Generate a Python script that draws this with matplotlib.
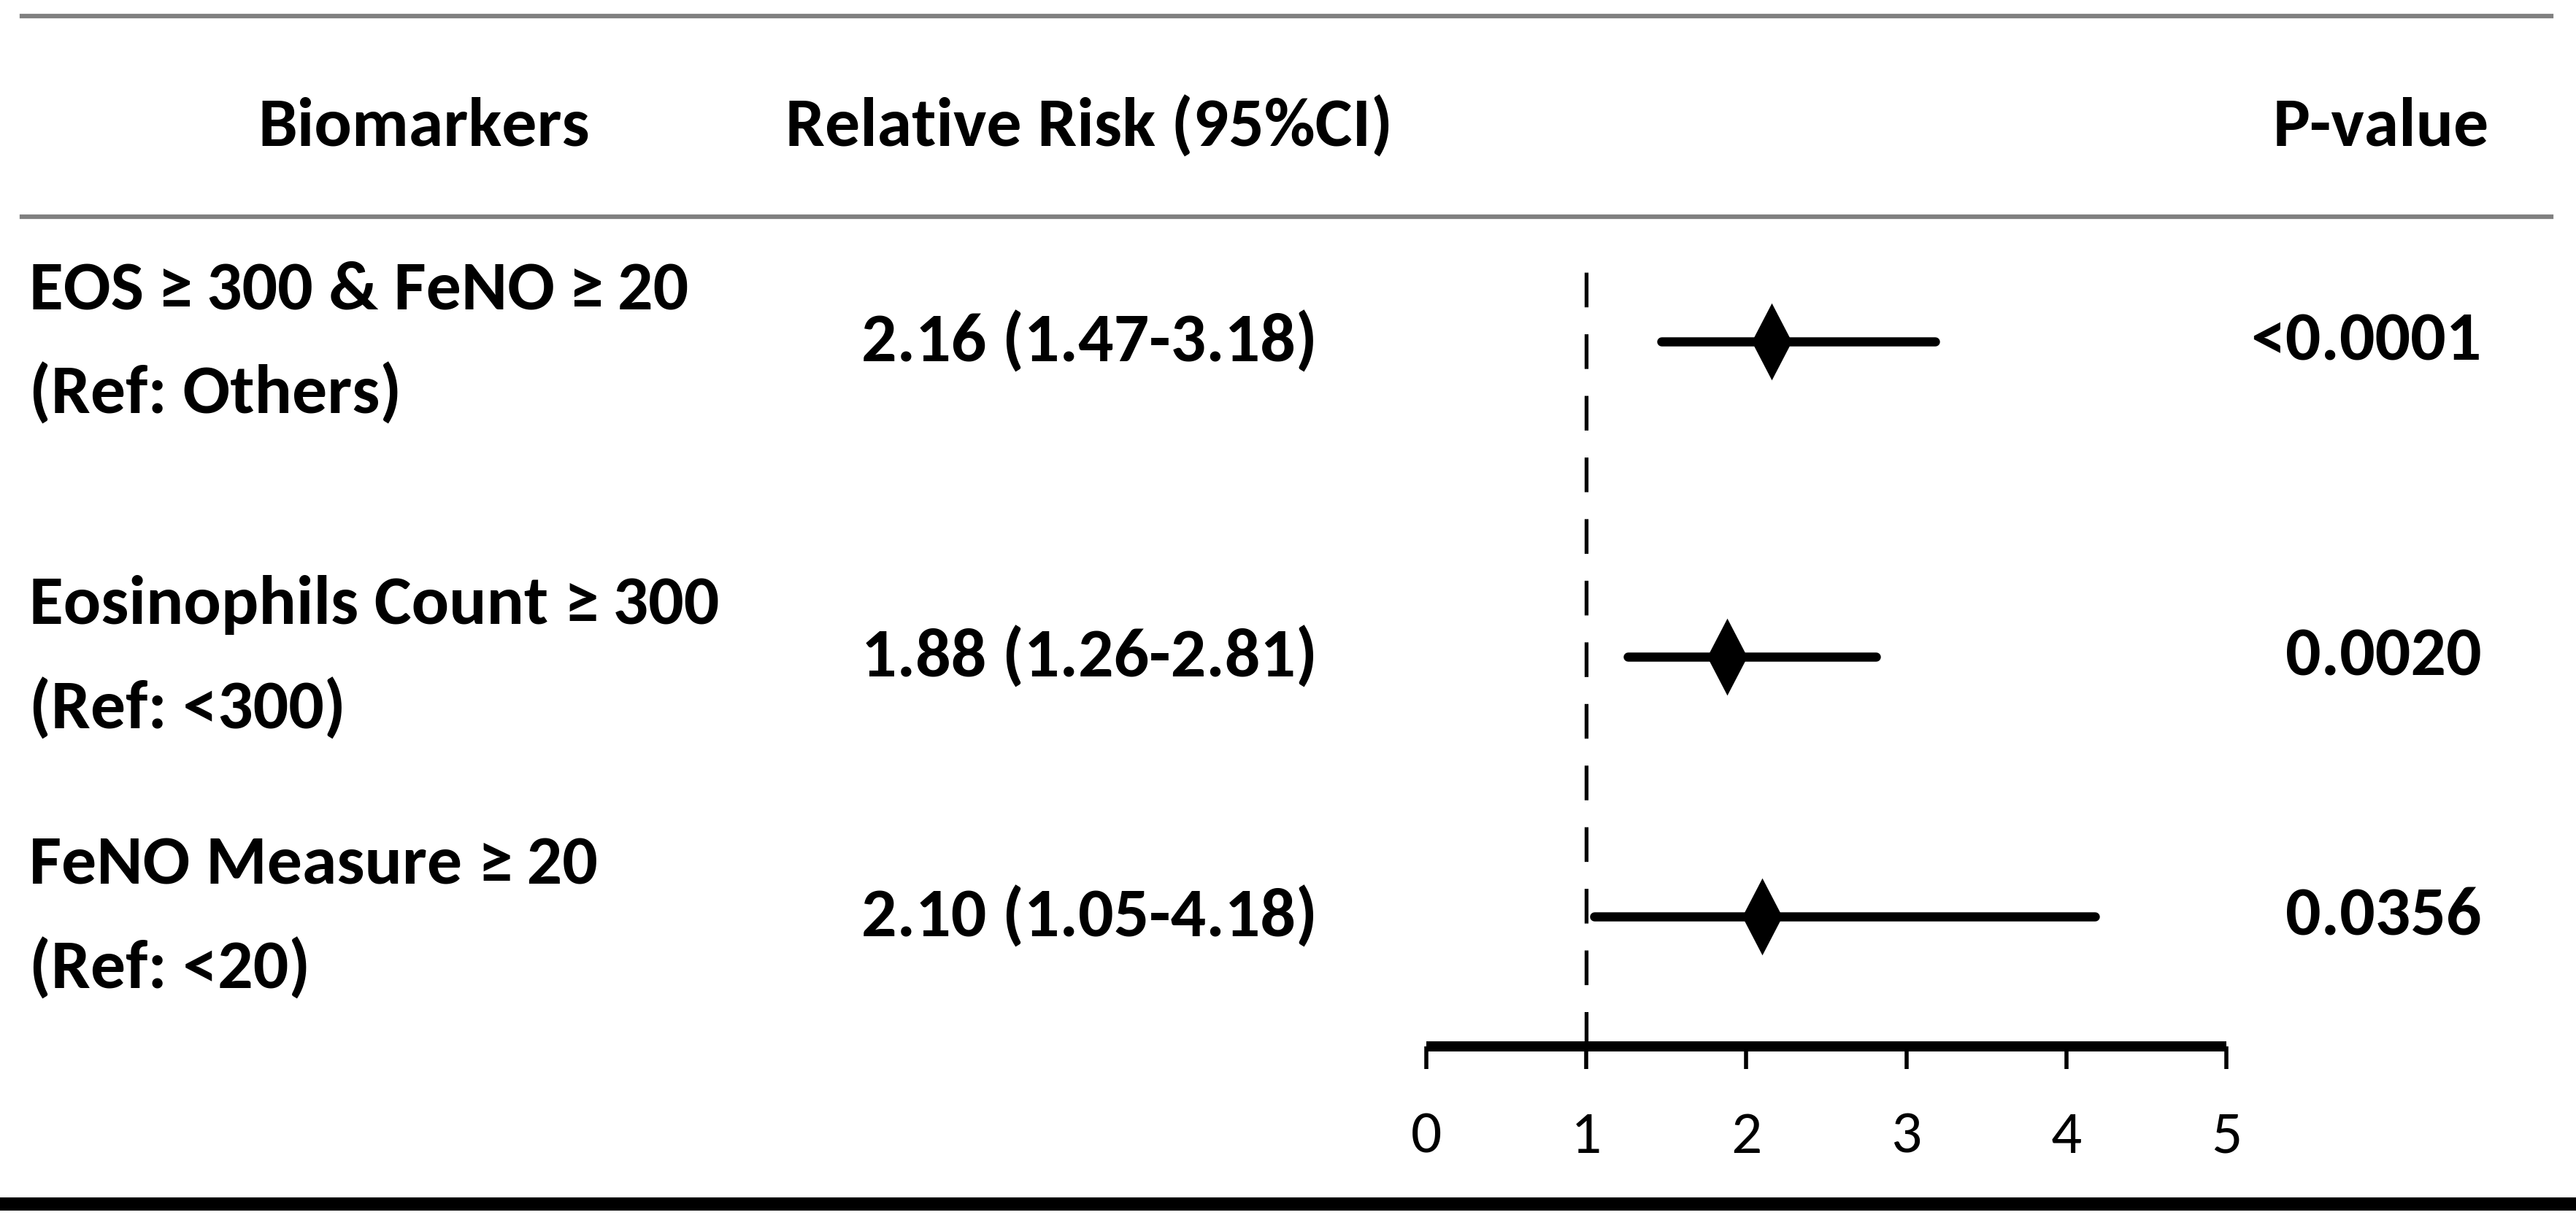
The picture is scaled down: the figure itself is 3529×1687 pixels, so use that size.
import matplotlib.pyplot as plt
from matplotlib.lines import Line2D

# data
biomarkers = ["EOS\u2009\u2265\u2009300 & FeNO\u2009\u2265\u200920",
              "Eosinophils Count \u2265\u2009300",
              "FeNO Measure \u2265\u200920"]
references = ["(Ref: Others)", "(Ref: <300)", "(Ref: <20)"]
rr = [2.16, 1.88, 2.10]
ci_low = [1.47, 1.26, 1.05]
ci_high = [3.18, 2.81, 4.18]
p_values = ["<0.0001", "0.0020", "0.0356"]
x_ticks = [0, 1, 2, 3, 4, 5]
headers = ["Biomarkers", "Relative Risk (95%CI)", "P-value"]

plt.rcParams['font.family'] = ['Carlito', 'Open Sans Condensed', 'DejaVu Sans']

W, H = 3530, 1687
fig = plt.figure(figsize=(W / 100, H / 100), dpi=100)

def fx(px):
    return px / W

def fy(py):
    return 1 - py / H

# layout (pixels from top)
row_py = [468, 900, 1256]
head_py = 173
ax_left, ax_right = 1954, 3050
ax_top, ax_bottom = 338, 1434

# table rules
fig.add_artist(Line2D([fx(30), fx(3495)], [fy(22), fy(22)], color='#808080', lw=4.5))
fig.add_artist(Line2D([fx(30), fx(3495)], [fy(297), fy(297)], color='#808080', lw=4.5))
fig.add_artist(Line2D([0, 1], [fy(1650), fy(1650)], color='black', lw=13))

# headers
fs = 69
fig.text(fx(581), fy(head_py), headers[0], ha='center', va='center', fontsize=fs, fontweight='bold')
fig.text(fx(1492), fy(head_py), headers[1], ha='center', va='center', fontsize=fs, fontweight='bold')
fig.text(fx(3410), fy(head_py), headers[2], ha='right', va='center', fontsize=fs, fontweight='bold')

for i in range(len(biomarkers)):
    y = row_py[i]
    fig.text(fx(40), fy(y - 71), biomarkers[i], ha='left', va='center', fontsize=fs, fontweight='bold')
    fig.text(fx(40), fy(y + 71), references[i], ha='left', va='center', fontsize=fs, fontweight='bold')
    label = f"{rr[i]:.2f} ({ci_low[i]:.2f}-{ci_high[i]:.2f})"
    fig.text(fx(1492), fy(y), label, ha='center', va='center', fontsize=fs, fontweight='bold')
    fig.text(fx(3400), fy(y), p_values[i], ha='right', va='center', fontsize=fs, fontweight='bold')

# forest plot
ax = fig.add_axes([fx(ax_left), fy(ax_bottom), (ax_right - ax_left) / W, (ax_bottom - ax_top) / H])
ax.set_xlim(x_ticks[0], x_ticks[-1])
ax.set_ylim(ax_bottom, ax_top)
ax.patch.set_alpha(0)
for s in ['top', 'right', 'left']:
    ax.spines[s].set_visible(False)
ax.spines['bottom'].set_linewidth(10)
ax.spines['bottom'].set_capstyle('butt')
ax.set_yticks([])
ax.set_xticks(x_ticks)
ax.tick_params(axis='x', length=22, width=4, pad=42, labelsize=60)

ax.axvline(1, color='black', lw=3.8, dashes=(9, 7))
diamond = [(0, 1), (0.52, 0), (0, -1), (-0.52, 0)]
for i in range(len(rr)):
    ax.plot([ci_low[i], ci_high[i]], [row_py[i], row_py[i]], color='black', lw=9,
            solid_capstyle='round')
    ax.plot(rr[i], row_py[i], marker=diamond, color='black', ms=76, mew=0)

fig.savefig('out.png', dpi=100)
